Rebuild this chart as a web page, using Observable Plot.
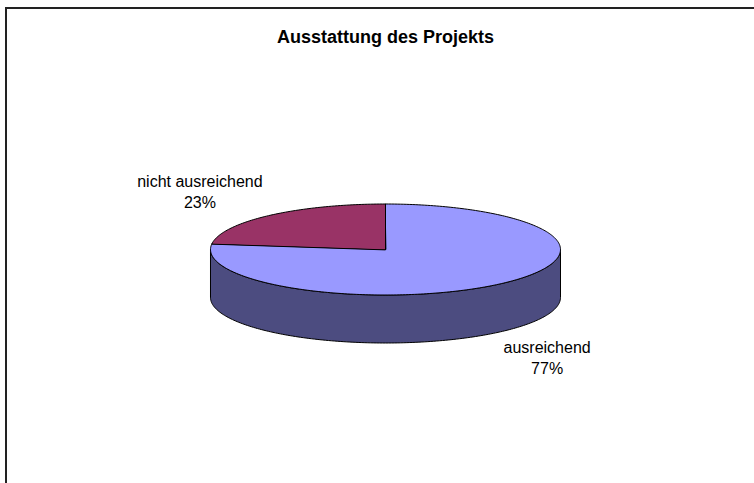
<!DOCTYPE html>
<html><head><meta charset="utf-8">
<script src="https://cdn.jsdelivr.net/npm/d3@7"></script>
<script src="https://cdn.jsdelivr.net/npm/@observablehq/plot@0.6"></script>
<style>
body{margin:0;background:#fff;}
#wrap{position:relative;width:754px;height:483px;overflow:hidden;background:#fff;}
#frame{position:absolute;left:5px;top:7px;width:900px;height:700px;border-left:2px solid #222;border-top:2px solid #222;box-sizing:border-box;}
#chart{position:absolute;left:0;top:0;}
</style></head><body>
<div id="wrap"><div id="frame"></div><div id="chart"></div></div>
<script>
const title = "Ausstattung des Projekts";
const categories = ["ausreichend", "nicht ausreichend"];
const values = [77, 23];
const topColors = ["#9999FF", "#993366"];
const sideColors = ["#4C4C80", "#4D1A33"];

const depth = 1.055;      // cylinder height in y-units of the tilted ellipse
const total = d3.sum(values);
const rad = d => d * Math.PI / 180;

let cum = 0;
const slices = values.map((v, i) => {
  const aStart = 90 - 360 * cum / total;
  const aEnd = 90 - 360 * (cum + v) / total;
  cum += v;
  return {i, cat: categories[i], v, lo: aEnd, hi: aStart, mid: (aStart + aEnd) / 2};
});

function arc(lo, hi) {
  const pts = [];
  const n = Math.max(2, Math.ceil(hi - lo));
  for (let k = 0; k <= n; k++) pts.push(lo + (hi - lo) * k / n);
  return pts;
}

const topPts = [];
const sidePts = [];
slices.forEach(s => {
  const id = "top" + s.i;
  topPts.push({id, x: 0, y: 0, fill: topColors[s.i]});
  arc(s.lo, s.hi).forEach(a => topPts.push({id, x: Math.cos(rad(a)), y: Math.sin(rad(a)), fill: topColors[s.i]}));
  for (let k = -720; k <= 360; k += 360) {
    const lo = Math.max(s.lo, 180 + k), hi = Math.min(s.hi, 360 + k);
    if (lo < hi) {
      const sid = "side" + s.i + "_" + k;
      const a = arc(lo, hi);
      a.forEach(t => sidePts.push({id: sid, x: Math.cos(rad(t)), y: Math.sin(rad(t)), fill: sideColors[s.i]}));
      a.slice().reverse().forEach(t => sidePts.push({id: sid, x: Math.cos(rad(t)), y: Math.sin(rad(t)) - depth, fill: sideColors[s.i]}));
    }
  }
});

const labels = slices.map(s => {
  const c = Math.cos(rad(s.mid)), sn = Math.sin(rad(s.mid));
  return {
    x: 1.5 * c,
    y: 1.73 * sn - (sn < 0 ? depth : 0),
    text: s.cat + "\n" + Math.round(100 * s.v / total) + "%"
  };
});

const chart = Plot.plot({
  width: 754, height: 483, margin: 0,
  style: {fontFamily: "'Liberation Sans', Arial, sans-serif", background: "transparent"},
  x: {domain: [-1, 1], range: [210, 560], axis: null},
  y: {domain: [-1, 1], range: [294.5, 203.5], axis: null},
  color: {type: "identity"},
  marks: [
    Plot.line(sidePts, {x: "x", y: "y", z: "id", fill: "fill", stroke: "#000", strokeWidth: 1, curve: "linear-closed"}),
    Plot.line(topPts, {x: "x", y: "y", z: "id", fill: "fill", stroke: "#000", strokeWidth: 1, curve: "linear-closed"}),
    Plot.text(labels, {x: "x", y: "y", text: "text", dx: -12, fontSize: 16, lineHeight: 1.3, lineAnchor: "middle", textAnchor: "middle", fill: "#000"}),
    Plot.text([title], {frameAnchor: "top", dx: 8, dy: 30, fontSize: 18, fontWeight: "bold", fill: "#000"})
  ]
});
document.getElementById("chart").appendChild(chart);
</script>
</body></html>
